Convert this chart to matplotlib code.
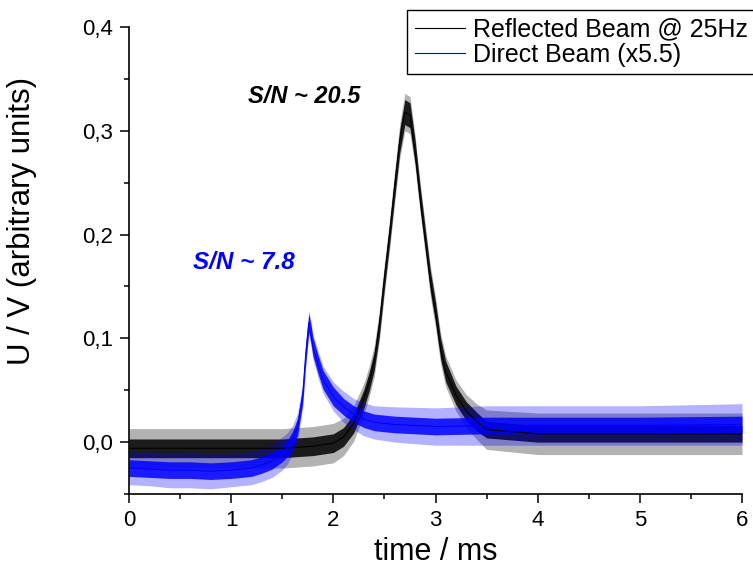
import numpy as np
import matplotlib.pyplot as plt
from matplotlib.ticker import MultipleLocator, FuncFormatter

plt.rcParams["font.family"] = ["Liberation Sans", "DejaVu Sans"]

# -------------------------------------------------------------------------
# Data
# -------------------------------------------------------------------------

# reflected beam: mean trace, half-width of dense noise, half-width of spikes
ref_t = [0.0, 0.5, 1.0, 1.5, 1.8, 2.0, 2.1, 2.2, 2.25, 2.3, 2.35, 2.4,
         2.45, 2.5, 2.55, 2.6, 2.65, 2.7, 2.75, 2.8, 2.85, 2.9, 2.95, 3.0,
         3.05, 3.1, 3.2, 3.3, 3.4, 3.5, 4.0, 5.0, 6.0]
ref_mid = [-0.006, -0.006, -0.006, -0.006, -0.004, -0.001, 0.005, 0.018,
           0.030, 0.042, 0.058, 0.078, 0.112, 0.158, 0.200, 0.246, 0.290,
           0.318, 0.315, 0.280, 0.235, 0.195, 0.155, 0.125, 0.090, 0.068,
           0.045, 0.030, 0.020, 0.012, 0.008, 0.008, 0.008]
ref_spread = [0.009, 0.009, 0.009, 0.009, 0.009, 0.009, 0.009, 0.009,
              0.009, 0.009, 0.009, 0.009, 0.010, 0.010, 0.010, 0.011, 0.011,
              0.012, 0.012, 0.011, 0.011, 0.010, 0.010, 0.010, 0.010, 0.010,
              0.009, 0.009, 0.009, 0.008, 0.008, 0.008, 0.008]
ref_spike = [0.019, 0.019, 0.019, 0.019, 0.019, 0.019, 0.018, 0.017,
             0.016, 0.015, 0.015, 0.015, 0.015, 0.015, 0.015, 0.016, 0.017,
             0.018, 0.018, 0.016, 0.015, 0.015, 0.015, 0.015, 0.015, 0.015,
             0.015, 0.016, 0.017, 0.019, 0.020, 0.020, 0.020]

# direct beam (x5.5)
dir_t = [0.0, 0.2, 0.4, 0.6, 0.8, 1.0, 1.2, 1.3, 1.4, 1.5, 1.55, 1.6, 1.65,
         1.7, 1.73, 1.76, 1.78, 1.8, 1.85, 1.9, 2.0, 2.1, 2.2, 2.3, 2.4,
         2.6, 3.0, 3.5, 4.0, 5.0, 6.0]
dir_mid = [-0.025, -0.026, -0.027, -0.027, -0.028, -0.027, -0.025, -0.022,
           -0.018, -0.011, -0.006, 0.002, 0.015, 0.045, 0.085, 0.115, 0.105,
           0.092, 0.075, 0.060, 0.044, 0.034, 0.027, 0.022, 0.019, 0.017,
           0.015, 0.016, 0.016, 0.016, 0.017]
dir_spread = [0.008, 0.008, 0.008, 0.008, 0.008, 0.008, 0.008, 0.008,
              0.008, 0.008, 0.008, 0.008, 0.008, 0.008, 0.009, 0.009, 0.009,
              0.009, 0.009, 0.009, 0.009, 0.008, 0.008, 0.008, 0.008, 0.008,
              0.008, 0.008, 0.008, 0.008, 0.008]
dir_spike = [0.016, 0.016, 0.017, 0.017, 0.017, 0.016, 0.016, 0.016,
             0.016, 0.016, 0.015, 0.014, 0.013, 0.012, 0.012, 0.012, 0.012,
             0.012, 0.013, 0.013, 0.014, 0.015, 0.015, 0.016, 0.016, 0.017,
             0.018, 0.019, 0.019, 0.019, 0.020]

labels = ["Reflected Beam @ 25Hz", "Direct Beam (x5.5)"]
colors = ["black", "#0000ff"]

# -------------------------------------------------------------------------
# Plot
# -------------------------------------------------------------------------

fig = plt.figure(figsize=(7.53, 5.73), dpi=100)
ax = fig.add_axes([129 / 753, 1 - 494 / 573, 613 / 753, 467 / 573])

series = [
    (ref_t, ref_mid, ref_spread, ref_spike),
    (dir_t, dir_mid, dir_spread, dir_spike),
]

for (t, mid, spread, spike), label, color in zip(series, labels, colors):
    t = np.array(t)
    mid = np.array(mid)
    spread = np.array(spread)
    spike = np.array(spike)
    ax.fill_between(t, mid - spike, mid + spike, color=color, alpha=0.3,
                    linewidth=0)
    ax.fill_between(t, mid - spread, mid + spread, color=color, alpha=0.85,
                    linewidth=0)
    ax.plot(t, mid, color=color, linewidth=0.8, label=label)

ax.set_xlim(0, 6)
ax.set_ylim(-0.05, 0.4)

ax.spines["top"].set_visible(False)
ax.spines["right"].set_visible(False)
ax.spines["left"].set_linewidth(1.2)
ax.spines["bottom"].set_linewidth(1.2)

ax.xaxis.set_major_locator(MultipleLocator(1))
ax.xaxis.set_minor_locator(MultipleLocator(0.5))
ax.yaxis.set_major_locator(MultipleLocator(0.1))
ax.yaxis.set_minor_locator(MultipleLocator(0.05))
ax.yaxis.set_major_formatter(
    FuncFormatter(lambda v, pos: f"{v:.1f}".replace(".", ",")))
ax.xaxis.set_major_formatter(FuncFormatter(lambda v, pos: f"{v:.0f}"))

ax.tick_params(which="major", direction="out", length=6.5, width=1.1,
               labelsize=16, pad=5)
ax.tick_params(which="minor", direction="out", length=3.6, width=1.1)

ax.set_xlabel("time / ms", fontsize=22, labelpad=4)
ax.set_ylabel("U / V (arbitrary units)", fontsize=22.5)
ax.yaxis.set_label_coords(-0.150, (494 - 221) / 467)

ax.text(1.165, 0.333, "S/N ~ 20.5", fontsize=17, fontweight="bold",
        fontstyle="italic", color="black", va="center")
ax.text(0.63, 0.173, "S/N ~ 7.8", fontsize=17.5, fontweight="bold",
        fontstyle="italic", color="#0000ff", va="center")

leg = ax.legend(loc="upper left", bbox_to_anchor=(407 / 753, 1 - 10 / 573),
                bbox_transform=fig.transFigure, fontsize=18, frameon=True,
                fancybox=False, shadow=False, framealpha=1, edgecolor="black",
                borderpad=0.3, labelspacing=0.05, handlelength=2.0,
                handletextpad=0.35, borderaxespad=0)
leg.get_frame().set_linewidth(1.0)

plt.savefig("out.png", dpi=100)
